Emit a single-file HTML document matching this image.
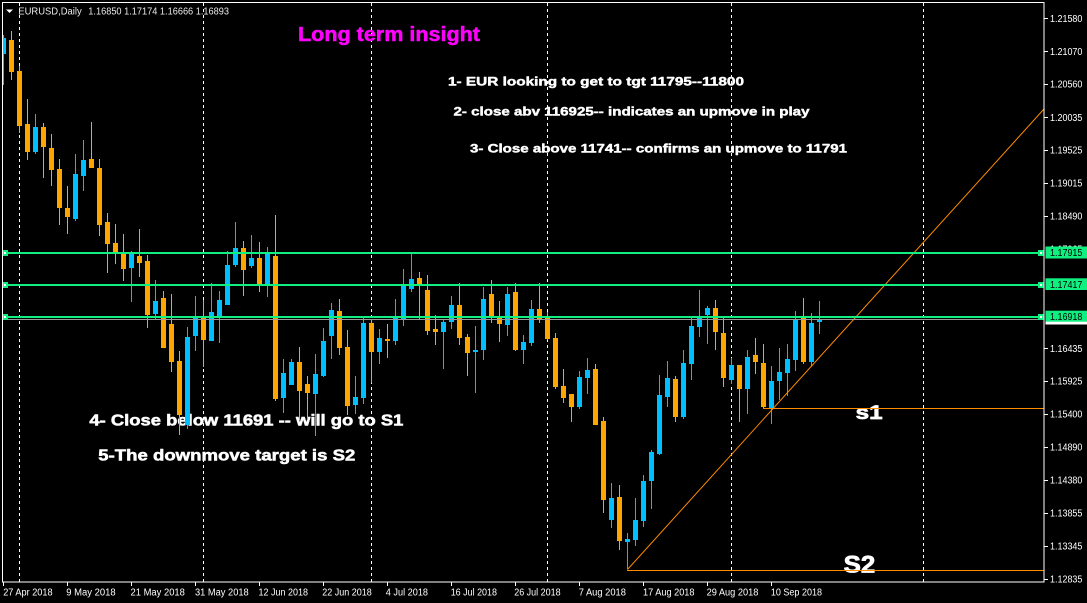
<!DOCTYPE html>
<html><head><meta charset="utf-8"><style>
html,body{margin:0;padding:0;background:#000;}
svg{display:block;}
</style></head><body>
<svg width="1087" height="603" viewBox="0 0 1087 603" xmlns="http://www.w3.org/2000/svg">
<defs><clipPath id="pa"><rect x="3" y="3" width="1041" height="579"/></clipPath></defs>
<rect x="0" y="0" width="1087" height="603" fill="#000"/>

<!-- separators -->
<g stroke="#fff" stroke-width="1" stroke-dasharray="3,3">
<line x1="19.5" y1="3" x2="19.5" y2="582"/>
<line x1="203.5" y1="3" x2="203.5" y2="582"/>
<line x1="371.5" y1="3" x2="371.5" y2="582"/>
<line x1="547.5" y1="3" x2="547.5" y2="582"/>
<line x1="731.5" y1="3" x2="731.5" y2="582"/>
<line x1="923.5" y1="3" x2="923.5" y2="582"/>
</g>

<!-- annotation texts -->
<g font-family="Liberation Sans, Arial, sans-serif" font-weight="bold" stroke-linejoin="round">
<text x="298" y="41" font-size="20" fill="#FF00FF" stroke="#FF00FF" stroke-width="0.5" textLength="182" lengthAdjust="spacingAndGlyphs">Long term insight</text>
<text x="448" y="85.7" font-size="12" fill="#fff" stroke="#fff" stroke-width="0.45" textLength="296" lengthAdjust="spacingAndGlyphs">1- EUR looking to get to tgt 11795--11800</text>
<text x="453.5" y="115.7" font-size="12" fill="#fff" stroke="#fff" stroke-width="0.45" textLength="356" lengthAdjust="spacingAndGlyphs">2- close abv 116925-- indicates an upmove in play</text>
<text x="470" y="152.3" font-size="12" fill="#fff" stroke="#fff" stroke-width="0.45" textLength="377" lengthAdjust="spacingAndGlyphs">3- Close above 11741-- confirms an upmove to 11791</text>
<text x="89.4" y="425.7" font-size="16" fill="#fff" stroke="#fff" stroke-width="0.55" textLength="314" lengthAdjust="spacingAndGlyphs">4- Close below 11691 -- will go to S1</text>
<text x="98.3" y="460.7" font-size="16" fill="#fff" stroke="#fff" stroke-width="0.55" textLength="257" lengthAdjust="spacingAndGlyphs">5-The downmove target is S2</text>
<text x="855.6" y="419" font-size="19.5" fill="#fff" stroke="#fff" stroke-width="0.7" textLength="27" lengthAdjust="spacingAndGlyphs">s1</text>
<text x="843.7" y="572.3" font-size="24" fill="#fff" stroke="#fff" stroke-width="0.8" textLength="31.6" lengthAdjust="spacingAndGlyphs">S2</text>
</g>

<g clip-path="url(#pa)">
<!-- orange candles -->
<path fill="#FFA500" d="
M11 31h1V80h-1z M9 40h5V72h-5z
M19 66h1V133h-1z M17 71h5V126h-5z
M27 99h1V160h-1z M25 124h5V152h-5z
M43 123h1V178h-1z M41 127h5V147h-5z
M51 134h1V186h-1z M49 148h5V170h-5z
M59 159h1V225h-1z M57 169h5V208h-5z
M67 186h1V234h-1z M65 208h5V217h-5z
M91 122h1V168h-1z M89 159h5V168h-5z
M99 159h1V236h-1z M97 168h5V225h-5z
M107 213h1V273h-1z M105 222h5V244h-5z
M115 224h1V264h-1z M113 243h5V254h-5z
M123 234h1V281h-1z M121 253h5V269h-5z
M139 229h1V277h-1z M137 256h5V263h-5z
M147 255h1V328h-1z M145 261h5V315h-5z
M163 291h1V348h-1z M161 298h5V348h-5z
M171 294h1V372h-1z M169 324h5V362h-5z
M179 351h1V435h-1z M177 361h5V415h-5z
M203 300h1V367h-1z M201 317h5V340h-5z
M243 241h1V296h-1z M241 248h5V270h-5z
M259 242h1V292h-1z M257 258h5V284h-5z
M275 215h1V401h-1z M273 256h5V399h-5z
M299 347h1V420h-1z M297 362h5V391h-5z
M307 376h1V420h-1z M305 384h5V393h-5z
M339 299h1V355h-1z M337 311h5V348h-5z
M347 330h1V415h-1z M345 347h5V406h-5z
M371 320h1V383h-1z M369 323h5V352h-5z
M387 324h1V358h-1z M385 339h5V341h-5z
M419 272h1V319h-1z M417 278h5V285h-5z
M427 275h1V335h-1z M425 290h5V331h-5z
M435 315h1V345h-1z M433 329h5V332h-5z
M459 283h1V345h-1z M457 305h5V338h-5z
M467 334h1V376h-1z M465 337h5V353h-5z
M491 280h1V323h-1z M489 294h5V317h-5z
M499 301h1V342h-1z M497 317h5V324h-5z
M515 283h1V351h-1z M513 292h5V350h-5z
M539 283h1V323h-1z M537 309h5V319h-5z
M547 312h1V340h-1z M545 318h5V339h-5z
M555 333h1V389h-1z M553 338h5V387h-5z
M563 369h1V403h-1z M561 386h5V398h-5z
M571 394h1V422h-1z M569 394h5V407h-5z
M595 364h1V425h-1z M593 369h5V425h-5z
M603 417h1V513h-1z M601 421h5V500h-5z
M619 485h1V550h-1z M617 497h5V541h-5z
M675 376h1V422h-1z M673 379h5V417h-5z
M715 300h1V350h-1z M713 308h5V332h-5z
M723 318h1V387h-1z M721 333h5V378h-5z
M739 365h1V422h-1z M737 365h5V389h-5z
M755 338h1V374h-1z M753 355h5V362h-5z
M763 344h1V409h-1z M761 363h5V407h-5z
M803 298h1V364h-1z M801 316h5V362h-5z
"/>
<!-- blue candles -->
<path fill="#00BFFF" d="
M3 35h1V85h-1z M1 38h5V54h-5z
M35 114h1V154h-1z M33 127h5V152h-5z
M75 154h1V221h-1z M73 174h5V219h-5z
M83 140h1V191h-1z M81 160h5V176h-5z
M131 251h1V302h-1z M129 253h5V268h-5z
M155 280h1V319h-1z M153 301h5V314h-5z
M187 327h1V429h-1z M185 337h5V425h-5z
M195 296h1V351h-1z M193 318h5V336h-5z
M211 283h1V341h-1z M209 312h5V341h-5z
M219 291h1V343h-1z M217 300h5V316h-5z
M227 251h1V305h-1z M225 265h5V305h-5z
M235 222h1V267h-1z M233 248h5V265h-5z
M251 235h1V268h-1z M249 258h5V266h-5z
M267 247h1V297h-1z M265 253h5V284h-5z
M283 359h1V413h-1z M281 373h5V398h-5z
M291 359h1V385h-1z M289 362h5V385h-5z
M315 354h1V436h-1z M313 374h5V394h-5z
M323 328h1V377h-1z M321 341h5V376h-5z
M331 303h1V359h-1z M329 310h5V336h-5z
M355 376h1V414h-1z M353 397h5V405h-5z
M363 318h1V404h-1z M361 323h5V398h-5z
M379 329h1V364h-1z M377 338h5V352h-5z
M395 299h1V345h-1z M393 318h5V341h-5z
M403 269h1V326h-1z M401 285h5V320h-5z
M411 254h1V292h-1z M409 279h5V289h-5z
M443 320h1V369h-1z M441 322h5V332h-5z
M451 296h1V329h-1z M449 305h5V322h-5z
M475 326h1V393h-1z M473 350h5V352h-5z
M483 287h1V360h-1z M481 299h5V350h-5z
M507 287h1V336h-1z M505 294h5V325h-5z
M523 335h1V364h-1z M521 342h5V350h-5z
M531 300h1V346h-1z M529 309h5V343h-5z
M579 371h1V409h-1z M577 377h5V407h-5z
M587 358h1V394h-1z M585 370h5V378h-5z
M611 483h1V528h-1z M609 498h5V520h-5z
M627 533h1V569h-1z M625 539h5V542h-5z
M635 498h1V546h-1z M633 520h5V540h-5z
M643 475h1V527h-1z M641 481h5V521h-5z
M651 450h1V509h-1z M649 452h5V481h-5z
M659 375h1V455h-1z M657 395h5V454h-5z
M667 361h1V407h-1z M665 378h5V397h-5z
M683 350h1V419h-1z M681 363h5V417h-5z
M691 318h1V380h-1z M689 326h5V364h-5z
M699 290h1V337h-1z M697 317h5V327h-5z
M707 306h1V344h-1z M705 308h5V315h-5z
M731 358h1V384h-1z M729 365h5V380h-5z
M747 350h1V414h-1z M745 357h5V389h-5z
M771 366h1V424h-1z M769 381h5V408h-5z
M779 348h1V400h-1z M777 372h5V381h-5z
M787 344h1V396h-1z M785 359h5V373h-5z
M795 311h1V371h-1z M793 319h5V360h-5z
M811 313h1V366h-1z M809 323h5V362h-5z
M819 301h1V334h-1z M817 319h5V322h-5z
"/>

<!-- trend / support lines -->
<g stroke="#FF8C00" stroke-width="1" fill="none">
<line x1="627.5" y1="569.5" x2="1044" y2="109"/>
<line x1="627" y1="570.5" x2="1044" y2="570.5"/>
<line x1="763" y1="408.5" x2="1044" y2="408.5"/>
</g>

<!-- bid line -->
<line x1="3" y1="319.5" x2="1044" y2="319.5" stroke="#9A9A9A" stroke-width="1"/>

<!-- green horizontal lines -->
<g fill="#10F080">
<rect x="3" y="252" width="1041" height="2"/>
<rect x="3" y="284" width="1041" height="2"/>
<rect x="3" y="316" width="1041" height="2"/>
</g>
</g>

<!-- anchors -->
<g fill="#10F080">
<rect x="2" y="250" width="6" height="6"/>
<rect x="2" y="282" width="6" height="6"/>
<rect x="2" y="314" width="6" height="6"/>
<rect x="1038" y="250" width="6" height="6"/>
<rect x="1038" y="282" width="6" height="6"/>
<rect x="1038" y="314" width="6" height="6"/>
</g>
<g fill="#fff">
<rect x="4" y="252" width="2" height="2"/>
<rect x="4" y="284" width="2" height="2"/>
<rect x="4" y="316" width="2" height="2"/>
<rect x="1040" y="252" width="2" height="2"/>
<rect x="1040" y="284" width="2" height="2"/>
<rect x="1040" y="316" width="2" height="2"/>
</g>

<!-- frame -->
<rect x="2.5" y="2.5" width="1041.5" height="579.5" fill="none" stroke="#fff" stroke-width="1"/>

<!-- header -->
<polygon points="6,9.5 13,9.5 9.5,13" fill="#fff"/>
<g font-family="Liberation Sans, Arial, sans-serif" font-size="10" fill="#EAEAEA">
<text x="18.3" y="14.3" textLength="63.4" lengthAdjust="spacingAndGlyphs">EURUSD,Daily</text>
<text x="88.3" y="14.3" textLength="140.7" lengthAdjust="spacingAndGlyphs">1.16850 1.17174 1.16666 1.16893</text>
</g>

<!-- price axis ticks -->
<g stroke="#fff" stroke-width="1">
<line x1="1044" y1="18.5" x2="1048" y2="18.5"/>
<line x1="1044" y1="51.5" x2="1048" y2="51.5"/>
<line x1="1044" y1="84.5" x2="1048" y2="84.5"/>
<line x1="1044" y1="117.5" x2="1048" y2="117.5"/>
<line x1="1044" y1="150.5" x2="1048" y2="150.5"/>
<line x1="1044" y1="183.5" x2="1048" y2="183.5"/>
<line x1="1044" y1="216.5" x2="1048" y2="216.5"/>
<line x1="1044" y1="348.5" x2="1048" y2="348.5"/>
<line x1="1044" y1="381.5" x2="1048" y2="381.5"/>
<line x1="1044" y1="414.5" x2="1048" y2="414.5"/>
<line x1="1044" y1="447.5" x2="1048" y2="447.5"/>
<line x1="1044" y1="480.5" x2="1048" y2="480.5"/>
<line x1="1044" y1="513.5" x2="1048" y2="513.5"/>
<line x1="1044" y1="546.5" x2="1048" y2="546.5"/>
<line x1="1044" y1="579.5" x2="1048" y2="579.5"/>
</g>
<g font-family="Liberation Sans, Arial, sans-serif" font-size="10" fill="#fff">
<text x="1050" y="22.2" textLength="32.4" lengthAdjust="spacingAndGlyphs">1.21580</text>
<text x="1050" y="55" textLength="32.4" lengthAdjust="spacingAndGlyphs">1.21070</text>
<text x="1050" y="87.5" textLength="32.4" lengthAdjust="spacingAndGlyphs">1.20560</text>
<text x="1050" y="121" textLength="32.4" lengthAdjust="spacingAndGlyphs">1.20035</text>
<text x="1050" y="153.5" textLength="32.4" lengthAdjust="spacingAndGlyphs">1.19525</text>
<text x="1050" y="186.5" textLength="32.4" lengthAdjust="spacingAndGlyphs">1.19015</text>
<text x="1050" y="219.5" textLength="32.4" lengthAdjust="spacingAndGlyphs">1.18490</text>
<text x="1050" y="252.5" textLength="32.4" lengthAdjust="spacingAndGlyphs">1.17965</text>
<text x="1050" y="352" textLength="32.4" lengthAdjust="spacingAndGlyphs">1.16435</text>
<text x="1050" y="384.5" textLength="32.4" lengthAdjust="spacingAndGlyphs">1.15925</text>
<text x="1050" y="417.5" textLength="32.4" lengthAdjust="spacingAndGlyphs">1.15400</text>
<text x="1050" y="450.5" textLength="32.4" lengthAdjust="spacingAndGlyphs">1.14890</text>
<text x="1050" y="483.5" textLength="32.4" lengthAdjust="spacingAndGlyphs">1.14380</text>
<text x="1050" y="516.5" textLength="32.4" lengthAdjust="spacingAndGlyphs">1.13855</text>
<text x="1050" y="549.5" textLength="32.4" lengthAdjust="spacingAndGlyphs">1.13345</text>
<text x="1050" y="582.5" textLength="32.4" lengthAdjust="spacingAndGlyphs">1.12835</text>
</g>

<!-- highlighted price labels -->
<rect x="1045.5" y="312" width="41.5" height="12.5" fill="#fff"/>
<g fill="#10F080">
<rect x="1045.5" y="246.5" width="41.5" height="12"/>
<rect x="1045.5" y="278.3" width="41.5" height="11.7"/>
<rect x="1045.5" y="310.7" width="41.5" height="11"/>
</g>
<g font-family="Liberation Sans, Arial, sans-serif" font-size="10" fill="#000">
<text x="1050" y="256.2" textLength="32.4" lengthAdjust="spacingAndGlyphs">1.17915</text>
<text x="1050" y="287.8" textLength="32.4" lengthAdjust="spacingAndGlyphs">1.17417</text>
<text x="1050" y="319.8" textLength="32.4" lengthAdjust="spacingAndGlyphs">1.16918</text>
</g>

<!-- date axis ticks -->
<g stroke="#fff" stroke-width="1">
<line x1="3.5" y1="582" x2="3.5" y2="586"/>
<line x1="67.5" y1="582" x2="67.5" y2="586"/>
<line x1="131.5" y1="582" x2="131.5" y2="586"/>
<line x1="195.5" y1="582" x2="195.5" y2="586"/>
<line x1="259.5" y1="582" x2="259.5" y2="586"/>
<line x1="323.5" y1="582" x2="323.5" y2="586"/>
<line x1="387.5" y1="582" x2="387.5" y2="586"/>
<line x1="451.5" y1="582" x2="451.5" y2="586"/>
<line x1="515.5" y1="582" x2="515.5" y2="586"/>
<line x1="579.5" y1="582" x2="579.5" y2="586"/>
<line x1="643.5" y1="582" x2="643.5" y2="586"/>
<line x1="707.5" y1="582" x2="707.5" y2="586"/>
<line x1="771.5" y1="582" x2="771.5" y2="586"/>
</g>
<g font-family="Liberation Sans, Arial, sans-serif" font-size="10" fill="#fff">
<text x="3.2" y="595.5" textLength="49.4" lengthAdjust="spacingAndGlyphs">27 Apr 2018</text>
<text x="66.3" y="595.5" textLength="49.4" lengthAdjust="spacingAndGlyphs">9 May 2018</text>
<text x="130.5" y="595.5" textLength="54.4" lengthAdjust="spacingAndGlyphs">21 May 2018</text>
<text x="195" y="595.5" textLength="53.7" lengthAdjust="spacingAndGlyphs">31 May 2018</text>
<text x="258.5" y="595.5" textLength="49.5" lengthAdjust="spacingAndGlyphs">12 Jun 2018</text>
<text x="322.3" y="595.5" textLength="49.5" lengthAdjust="spacingAndGlyphs">22 Jun 2018</text>
<text x="385.8" y="595.5" textLength="42.2" lengthAdjust="spacingAndGlyphs">4 Jul 2018</text>
<text x="450.7" y="595.5" textLength="46.3" lengthAdjust="spacingAndGlyphs">16 Jul 2018</text>
<text x="514.2" y="595.5" textLength="46.5" lengthAdjust="spacingAndGlyphs">26 Jul 2018</text>
<text x="578.7" y="595.5" textLength="47.2" lengthAdjust="spacingAndGlyphs">7 Aug 2018</text>
<text x="643" y="595.5" textLength="51.5" lengthAdjust="spacingAndGlyphs">17 Aug 2018</text>
<text x="706.6" y="595.5" textLength="51.8" lengthAdjust="spacingAndGlyphs">29 Aug 2018</text>
<text x="770.9" y="595.5" textLength="51.1" lengthAdjust="spacingAndGlyphs">10 Sep 2018</text>
</g>
</svg>
</body></html>
